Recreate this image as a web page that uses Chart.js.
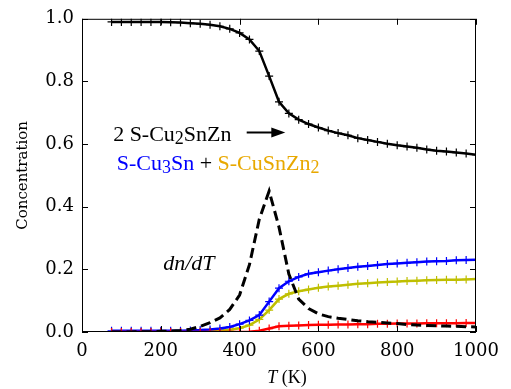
<!DOCTYPE html>
<html>
<head>
<meta charset="utf-8">
<script src="https://cdn.jsdelivr.net/npm/chart.js@4.4.1/dist/chart.umd.min.js"></script>
<style>
  html, body { margin: 0; padding: 0; background: #fff; }
  #wrap { width: 511px; height: 389px; position: relative; }
</style>
</head>
<body>
<div id="wrap"><canvas id="concChart"></canvas></div>
<script>
// 温度 (K)
const temps = [75, 100, 125, 150, 175, 200, 225, 250, 275, 300, 325, 350, 375, 400, 425, 450, 475, 500, 525,
               550, 575, 600, 625, 650, 675, 700, 725, 750, 775, 800, 825, 850, 875, 900, 925, 950, 975, 1000];

// 2 S-Cu2SnZn
const cu2snzn = [0.990, 0.990, 0.990, 0.990, 0.990, 0.990, 0.989, 0.988, 0.986, 0.984, 0.981, 0.976, 0.968, 0.955,
                 0.934, 0.897, 0.817, 0.735, 0.698, 0.678, 0.664, 0.653, 0.643, 0.635, 0.628, 0.619, 0.613, 0.607,
                 0.601, 0.596, 0.592, 0.588, 0.583, 0.579, 0.576, 0.573, 0.570, 0.566];

// S-Cu3Sn
const cu3sn = [0.004, 0.004, 0.004, 0.004, 0.004, 0.004, 0.004, 0.004, 0.005, 0.006, 0.008, 0.011, 0.016, 0.025,
               0.037, 0.054, 0.097, 0.140, 0.162, 0.176, 0.186, 0.191, 0.196, 0.200, 0.204, 0.208, 0.211, 0.214,
               0.217, 0.219, 0.221, 0.223, 0.225, 0.226, 0.227, 0.229, 0.230, 0.231];

// S-CuSnZn2
const cusnzn2 = [0.001, 0.001, 0.001, 0.001, 0.001, 0.001, 0.001, 0.001, 0.001, 0.002, 0.003, 0.004, 0.007, 0.012,
                 0.022, 0.040, 0.070, 0.105, 0.122, 0.130, 0.136, 0.141, 0.145, 0.148, 0.151, 0.154, 0.156, 0.158,
                 0.160, 0.161, 0.163, 0.164, 0.165, 0.166, 0.167, 0.167, 0.168, 0.169];

// 赤の系列
const redSeries = [0.000, 0.000, 0.000, 0.000, 0.000, 0.000, 0.000, 0.000, 0.000, 0.000, 0.000, 0.000, 0.000, 0.000,
                   0.001, 0.004, 0.011, 0.018, 0.020, 0.021, 0.022, 0.023, 0.023, 0.024, 0.024, 0.025, 0.025, 0.026,
                   0.026, 0.027, 0.027, 0.027, 0.028, 0.028, 0.028, 0.028, 0.029, 0.029];

// dn/dT (破線)
const dndt = [0.000, 0.000, 0.000, 0.001, 0.001, 0.002, 0.003, 0.005, 0.009, 0.018, 0.030, 0.045, 0.072, 0.118,
              0.215, 0.360, 0.450, 0.335, 0.185, 0.105, 0.075, 0.058, 0.049, 0.044, 0.040, 0.036, 0.033, 0.031,
              0.029, 0.027, 0.024, 0.022, 0.021, 0.020, 0.019, 0.018, 0.017, 0.016];

// 目盛り
const xTicks = [0, 200, 400, 600, 800, 1000];
const yTicks = [0.0, 0.2, 0.4, 0.6, 0.8, 1.0];

const toPoints = arr => temps.map((t, i) => ({ x: t, y: arr[i] }));

const serifTick = "'DejaVu Serif', serif";
const serifText = "'Liberation Serif', 'Times New Roman', serif";

// 内向きの目盛り・枠・注釈
const framePlugin = {
    id: 'frame',
    afterDraw(chart) {
        const { ctx, chartArea: a, scales } = chart;
        const xs = scales.x, ys = scales.y;
        ctx.save();
        ctx.strokeStyle = '#000';
        ctx.lineWidth = 1;
        ctx.strokeRect(a.left + 0.5, a.top + 0.5, a.right - a.left - 1, a.bottom - a.top - 1);
        ctx.beginPath();
        xTicks.forEach(v => {
            const px = Math.round(xs.getPixelForValue(v)) + 0.5;
            ctx.moveTo(px, a.bottom); ctx.lineTo(px, a.bottom - 6);
            ctx.moveTo(px, a.top); ctx.lineTo(px, a.top + 6);
        });
        yTicks.forEach(v => {
            const py = Math.round(ys.getPixelForValue(v)) + 0.5;
            ctx.moveTo(a.left, py); ctx.lineTo(a.left + 6, py);
            ctx.moveTo(a.right, py); ctx.lineTo(a.right - 6, py);
        });
        ctx.stroke();

        // 添字つきテキスト
        const drawParts = (parts, x, y) => {
            let cx = x;
            parts.forEach(p => {
                const size = p.sub ? 18 : 22;
                ctx.font = (p.italic ? 'italic ' : '') + size + 'px ' + serifText;
                ctx.fillStyle = p.color || '#000';
                ctx.fillText(p.t, cx, y + (p.sub ? 3 : 0));
                cx += ctx.measureText(p.t).width;
            });
            return cx;
        };
        ctx.textBaseline = 'alphabetic';
        ctx.textAlign = 'left';

        drawParts([{ t: '2 S-Cu' }, { t: '2', sub: true }, { t: 'SnZn' }],
                  xs.getPixelForValue(79), ys.getPixelForValue(0.611));

        const blue = '#0000ff', gold = '#e8a800';
        drawParts([{ t: 'S-Cu', color: blue }, { t: '3', sub: true, color: blue }, { t: 'Sn', color: blue },
                   { t: ' + ' }, { t: 'S-CuSnZn', color: gold }, { t: '2', sub: true, color: gold }],
                  xs.getPixelForValue(88), ys.getPixelForValue(0.516));

        ctx.font = 'italic 22px ' + serifText;
        ctx.fillStyle = '#000';
        ctx.fillText('dn/dT', xs.getPixelForValue(206), ys.getPixelForValue(0.198));

        // 矢印
        const ax0 = xs.getPixelForValue(418), ax1 = xs.getPixelForValue(516), ay = ys.getPixelForValue(0.637);
        ctx.lineWidth = 2;
        ctx.beginPath();
        ctx.moveTo(ax0, ay); ctx.lineTo(ax1 - 12, ay);
        ctx.stroke();
        ctx.beginPath();
        ctx.moveTo(ax1, ay); ctx.lineTo(ax1 - 14, ay - 5); ctx.lineTo(ax1 - 14, ay + 5);
        ctx.closePath();
        ctx.fill();

        // 軸タイトル
        const cxT = (a.left + a.right) / 2;
        ctx.font = 'italic 18px ' + serifText;
        const wT = ctx.measureText('T').width;
        ctx.font = '18px ' + serifText;
        const wK = ctx.measureText(' (K)').width;
        const sx = cxT - (wT + wK) / 2 + 8;
        ctx.font = 'italic 18px ' + serifText;
        ctx.fillText('T', sx, 383);
        ctx.font = '18px ' + serifText;
        ctx.fillText(' (K)', sx + wT, 383);

        ctx.translate(23, (a.top + a.bottom) / 2);
        ctx.rotate(-Math.PI / 2);
        ctx.textAlign = 'center';
        ctx.textBaseline = 'middle';
        ctx.font = '15px ' + serifTick;
        ctx.fillText('Concentration', 0, 0);
        ctx.restore();
    }
};

Chart.defaults.color = '#000';

function lineSet(data, color, order) {
    return {
        data: toPoints(data),
        borderColor: color,
        backgroundColor: color,
        borderWidth: 2.5,
        pointStyle: 'cross',
        pointRadius: 4,
        pointBorderWidth: 1.2,
        pointBorderColor: color,
        tension: 0,
        order: order
    };
}

const ctx = document.getElementById('concChart').getContext('2d');
new Chart(ctx, {
    type: 'line',
    data: {
        datasets: [
            lineSet(cu2snzn, '#000000', 4),
            lineSet(cusnzn2, '#bfbf00', 3),
            lineSet(cu3sn, '#0000ff', 2),
            lineSet(redSeries, '#ff0000', 1),
            {
                data: toPoints(dndt),
                borderColor: '#000',
                borderWidth: 3,
                borderDash: [10, 5],
                pointRadius: 0,
                tension: 0,
                order: 0
            }
        ]
    },
    options: {
        responsive: true,
        maintainAspectRatio: false,
        animation: false,
        layout: { padding: { top: 17, right: 35, left: 0, bottom: 0 } },
        plugins: { legend: { display: false }, tooltip: { enabled: false } },
        scales: {
            x: {
                type: 'linear',
                min: 0, max: 1000,
                grid: { display: false, drawTicks: false },
                border: { display: false },
                afterBuildTicks: s => { s.ticks = xTicks.map(v => ({ value: v })); },
                afterFit: s => { s.height = 57; },
                ticks: {
                    padding: 9,
                    font: { family: serifTick, size: 18 },
                    maxRotation: 0,
                    callback: v => String(v)
                }
            },
            y: {
                min: 0, max: 1.0,
                grid: { display: false, drawTicks: false },
                border: { display: false },
                afterBuildTicks: s => { s.ticks = yTicks.map(v => ({ value: v })); },
                afterFit: s => { s.width = 82; },
                ticks: {
                    padding: 8,
                    font: { family: serifTick, size: 18 },
                    callback: v => v.toFixed(1)
                }
            }
        }
    },
    plugins: [framePlugin]
});
</script>
</body>
</html>
